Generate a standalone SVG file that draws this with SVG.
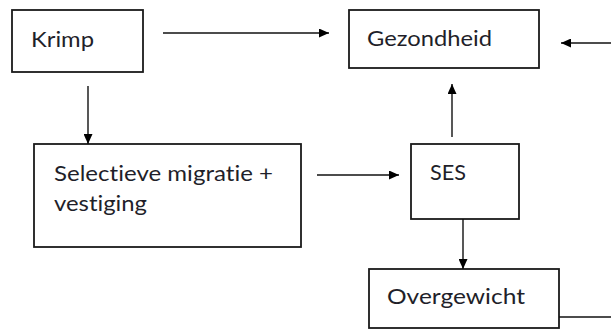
<svg xmlns="http://www.w3.org/2000/svg" width="611" height="331" viewBox="0 0 611 331">
<defs>
<marker id="ah" viewBox="0 0 10 9" refX="10" refY="4.5" markerWidth="10" markerHeight="9" markerUnits="userSpaceOnUse" orient="auto">
<path d="M0,0 L10,4.5 L0,9 Z" fill="#000"/>
</marker>
<style>
.box{fill:#fff;stroke:#1a1a1a;stroke-width:1.8}
.lbl{font-family:Lato,"Open Sans",sans-serif;font-size:21px;fill:#1f1f2a;font-variant-ligatures:none;font-feature-settings:"liga" 0,"clig" 0}
.c{stroke:#111;stroke-width:1.4;fill:none}
</style>
</defs>
<rect width="611" height="331" fill="#fff"/>
<g id="krimp">
<rect class="box" x="12" y="10" width="131" height="62"/>
<text class="lbl" x="31" y="47" textLength="63" lengthAdjust="spacingAndGlyphs">Krimp</text>
</g>
<g id="gezondheid">
<rect class="box" x="349" y="10" width="190" height="58"/>
<text class="lbl" x="367" y="46" textLength="125" lengthAdjust="spacingAndGlyphs">Gezondheid</text>
</g>
<g id="selectieve">
<rect class="box" x="34" y="144" width="267" height="103"/>
<text class="lbl" x="54" y="181" textLength="219" lengthAdjust="spacingAndGlyphs">Selectieve migratie +</text>
<text class="lbl" x="54" y="211" textLength="93" lengthAdjust="spacingAndGlyphs">vestiging</text>
</g>
<g id="ses">
<rect class="box" x="411" y="144" width="108" height="75"/>
<text class="lbl" x="430" y="180" textLength="36" lengthAdjust="spacingAndGlyphs">SES</text>
</g>
<g id="overgewicht">
<rect class="box" x="369" y="269" width="190" height="59"/>
<text class="lbl" x="387" y="304" textLength="138" lengthAdjust="spacingAndGlyphs">Overgewicht</text>
</g>
<g id="connectors">
<line class="c" x1="163" y1="33" x2="329" y2="33" marker-end="url(#ah)"/>
<line class="c" x1="88" y1="86" x2="88" y2="144" marker-end="url(#ah)"/>
<line class="c" x1="611" y1="43" x2="561" y2="43" marker-end="url(#ah)"/>
<line class="c" x1="452" y1="137" x2="452" y2="84" marker-end="url(#ah)"/>
<line class="c" x1="317" y1="175" x2="399" y2="175" marker-end="url(#ah)"/>
<line class="c" x1="463" y1="219" x2="463" y2="269" marker-end="url(#ah)"/>
<line class="c" x1="559" y1="317" x2="611" y2="317"/>
</g>
</svg>
